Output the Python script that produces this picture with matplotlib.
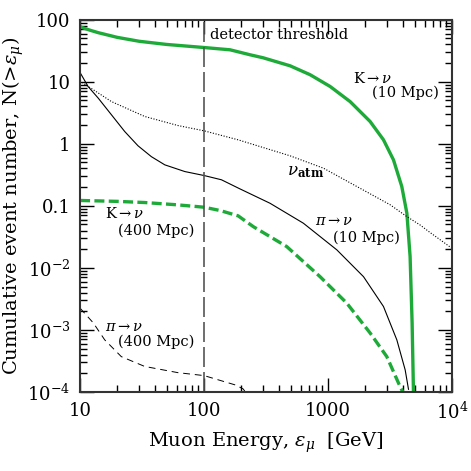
import matplotlib
matplotlib.use('Agg')
import matplotlib.pyplot as plt

plt.rcParams['font.family'] = ['DejaVu Serif']
plt.rcParams['mathtext.fontset'] = 'dejavuserif'

# K -> nu, 10 Mpc (dicke gruene Linie)
k10_e = [10, 12, 14, 20, 30, 50, 100, 162, 236, 299, 494, 716, 1038, 1503, 2180, 2794,
         3365, 3925, 4314, 4580, 4755, 4875]
k10_n = [77, 68, 62, 52, 45, 40, 35.7, 32.8, 27.2, 24.4, 18.1, 13, 8.4, 4.8, 2.29, 1.16,
         0.55, 0.205, 0.076, 0.0152, 0.00129, 1e-4]

# K -> nu, 400 Mpc (gestrichelt, gruen)
k400_e = [10, 20, 33.2, 60, 100, 134.6, 188, 250, 464, 861, 1413, 2180, 2972, 3800, 4000]
k400_n = [0.122, 0.118, 0.113, 0.104, 0.095, 0.084, 0.069, 0.046, 0.022, 0.0072, 0.0027,
          8.9e-4, 3.7e-4, 1.22e-4, 1e-4]

# pi -> nu, 10 Mpc (duenne schwarze Linie)
pi10_e = [10, 11.6, 14, 17.9, 22.9, 29.3, 37.6, 48.2, 69.9, 100, 138, 192, 340, 631,
          1175, 1929, 2794, 3580, 4180, 4446]
pi10_n = [14.1, 8.4, 5.46, 2.94, 1.58, 0.93, 0.62, 0.458, 0.357, 0.308, 0.263, 0.19,
          0.11, 0.0525, 0.0195, 0.0072, 0.00238, 6.9e-4, 2.26e-4, 1.1e-4]

# pi -> nu, 400 Mpc (duenn gestrichelt)
pi400_e = [10, 12.8, 15.8, 21.5, 33.2, 61.6, 100, 177, 206, 215]
pi400_n = [0.00224, 0.00129, 6.9e-4, 3.7e-4, 2.57e-4, 2.04e-4, 1.83e-4, 1.3e-4, 1.12e-4, 1.0e-4]

# atmosphaerische Neutrinos (gepunktet)
atm_e = [10, 10.6, 17.9, 33.2, 61.6, 100, 188, 494, 916, 1703, 3162, 4314, 5520, 6650,
         8500, 10000]
atm_n = [10.5, 9.5, 4.8, 2.76, 1.97, 1.62, 1.16, 0.64, 0.405, 0.205, 0.104, 0.067, 0.049,
         0.037, 0.026, 0.0205]

x_ticks = [10, 100, 1000, 10000]
x_labels = ['10', '100', '1000', r'$10^4$']
y_ticks = [1e-4, 1e-3, 1e-2, 0.1, 1, 10, 100]
y_labels = [r'$10^{-4}$', r'$10^{-3}$', r'$10^{-2}$', '0.1', '1', '10', '100']

green = '#1eaa38'

fig = plt.figure(figsize=(4.71, 4.71), dpi=100)
ax = fig.add_axes([0.170, 0.168, 0.790, 0.790])

ax.plot(k10_e, k10_n, color=green, lw=2.4)
ax.plot(k400_e, k400_n, color=green, lw=2.4, dashes=(3, 1.3))
ax.plot(pi10_e, pi10_n, color='black', lw=0.8)
ax.plot(pi400_e, pi400_n, color='black', lw=0.7, dashes=(7, 5))
ax.plot(atm_e, atm_n, color='black', lw=0.8, dashes=(1, 1.5))

# Detektorschwelle
ax.axvline(100, color='#555555', lw=1.2, dashes=(12, 3))

ax.set_xscale('log')
ax.set_yscale('log')
ax.set_xlim(10, 1e4)
ax.set_ylim(1e-4, 100)

ax.set_xticks(x_ticks)
ax.set_xticklabels(x_labels)
ax.set_yticks(y_ticks)
ax.set_yticklabels(y_labels)

ax.tick_params(which='both', direction='in', top=True, right=True, labelsize=13, width=1.0)
ax.tick_params(which='major', length=10, pad=7)
ax.tick_params(which='minor', length=5)
for s in ax.spines.values():
    s.set_linewidth(1.5)
    s.set_color('#333333')

ax.set_xlabel(r'Muon Energy, $\epsilon_\mu$  [GeV]', fontsize=14, labelpad=6)
ax.set_ylabel(r'Cumulative event number, N(>$\epsilon_\mu$)', fontsize=14)
ax.yaxis.set_label_coords(-0.145, 0.5)

fs = 10.5
ax.text(112, 57, 'detector threshold', fontsize=fs, va='center')
ax.text(1600, 11.5, r'K$\rightarrow\nu$', fontsize=fs, va='center')
ax.text(2250, 6.6, '(10 Mpc)', fontsize=fs, va='center')
ax.text(464, 0.357, r'$\nu_{\mathbf{atm}}$', fontsize=fs + 1.5, va='center')
ax.text(785, 0.056, r'$\pi\rightarrow\nu$', fontsize=fs, va='center')
ax.text(1104, 0.031, '(10 Mpc)', fontsize=fs, va='center')
ax.text(15.8, 0.074, r'K$\rightarrow\nu$', fontsize=fs, va='center')
ax.text(20.2, 0.04, '(400 Mpc)', fontsize=fs, va='center')
ax.text(15.8, 0.00113, r'$\pi\rightarrow\nu$', fontsize=fs, va='center')
ax.text(20.2, 0.00065, '(400 Mpc)', fontsize=fs, va='center')

fig.savefig('out.png', dpi=100)
